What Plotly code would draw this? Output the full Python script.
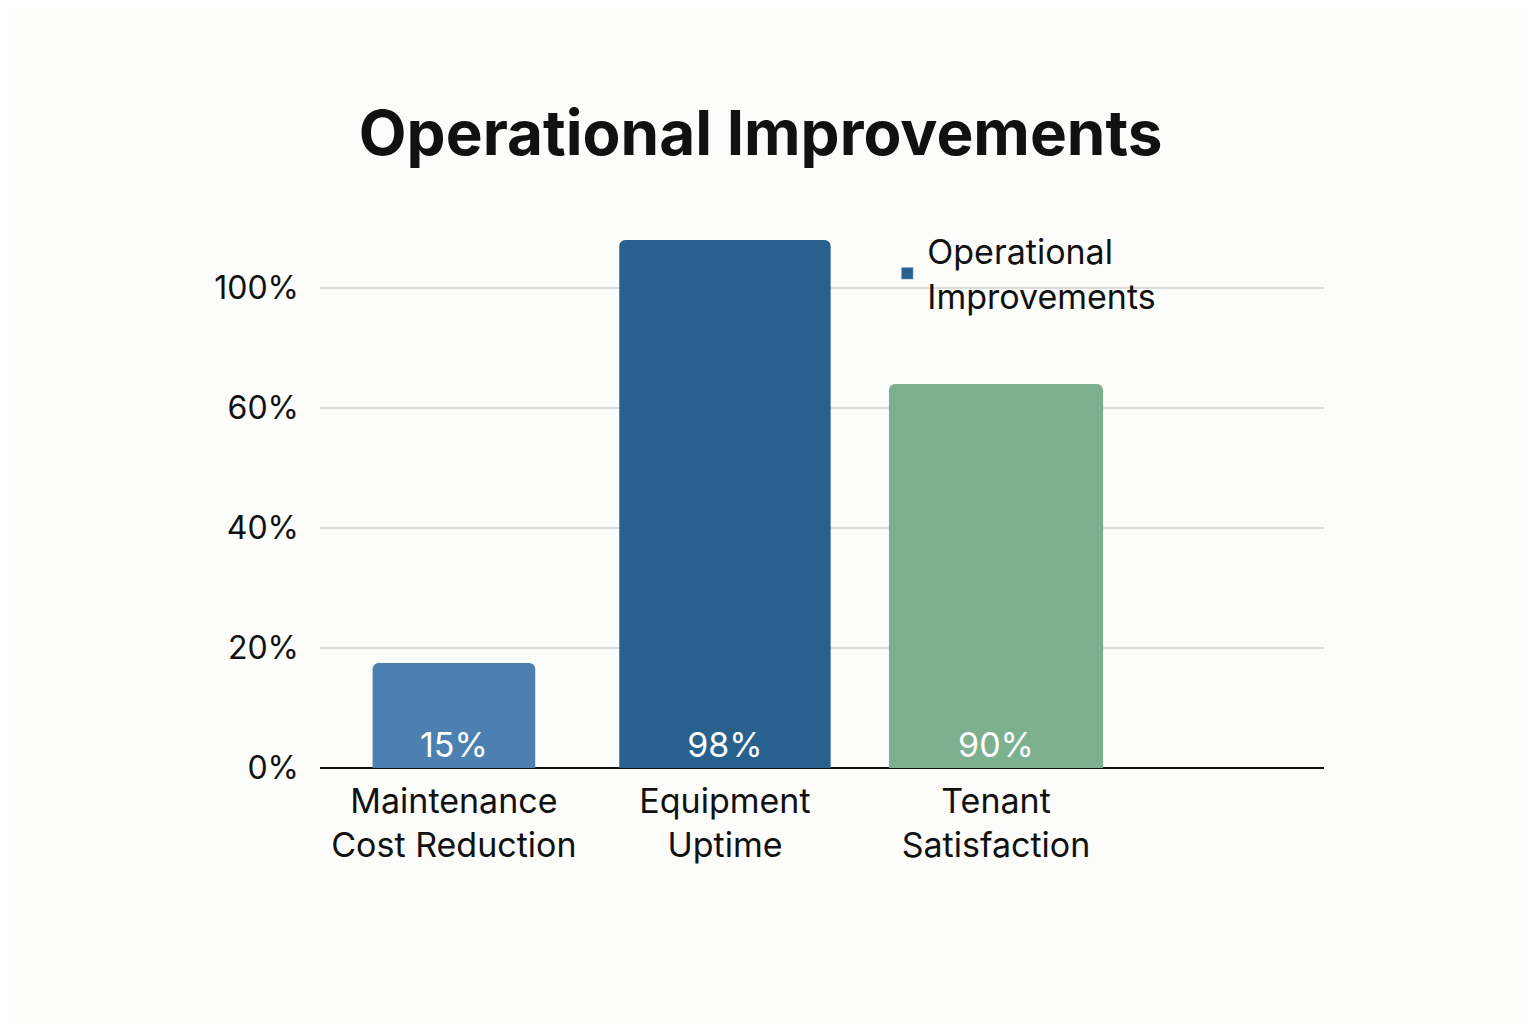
import plotly.graph_objects as go

categories = ["Maintenance<br>Cost Reduction", "Equipment<br>Uptime", "Tenant<br>Satisfaction"]
bar_heights = [17.5, 88, 64]
value_labels = ["15%", "98%", "90%"]
colors = ["#4b80b0", "#28618d", "#7db08e"]
tick_vals = [0, 20, 40, 60, 80]
tick_text = ["0%", "20%", "40%", "60%", "100%"]
series_name = "Operational<br>Improvements"

fig = go.Figure()
fig.add_bar(x=categories, y=bar_heights, text=value_labels, width=[0.6, 0.78, 0.79],
            marker=dict(color=colors, cornerradius=6, line=dict(width=0)),
            textposition="inside", insidetextanchor="start",
            textfont=dict(color="white", size=34, family="Inter"),
            showlegend=False)
fig.add_bar(x=[categories[0]], y=[None], name=series_name, marker_color="#28618d", showlegend=True)

fig.update_layout(
    width=1536, height=1024,
    paper_bgcolor="#fcfcfa", plot_bgcolor="#fcfcfa",
    margin=dict(l=312, r=220, t=220, b=264),
    font=dict(family="Inter", color="#111", size=32),
    title=dict(text="<b>Operational Improvements</b>", x=0.49, xanchor="center", y=0.878, yanchor="middle",
               font=dict(size=62, color="#111")),
    barmode="overlay",
    legend=dict(x=0.565, y=1.01, xanchor="left", yanchor="top", font=dict(size=34),
                bgcolor="rgba(0,0,0,0)"),
    xaxis=dict(range=[-0.494, 3.21], showgrid=False, tickfont=dict(size=34), ticks="", ticklabelstandoff=10),
    yaxis=dict(range=[0, 90], tickvals=tick_vals, ticktext=tick_text, gridcolor="#dcdcdc",
               gridwidth=1.5, zeroline=True, zerolinecolor="#111", zerolinewidth=1.5,
               ticklabelstandoff=20),
)
fig.write_html("out.html")
